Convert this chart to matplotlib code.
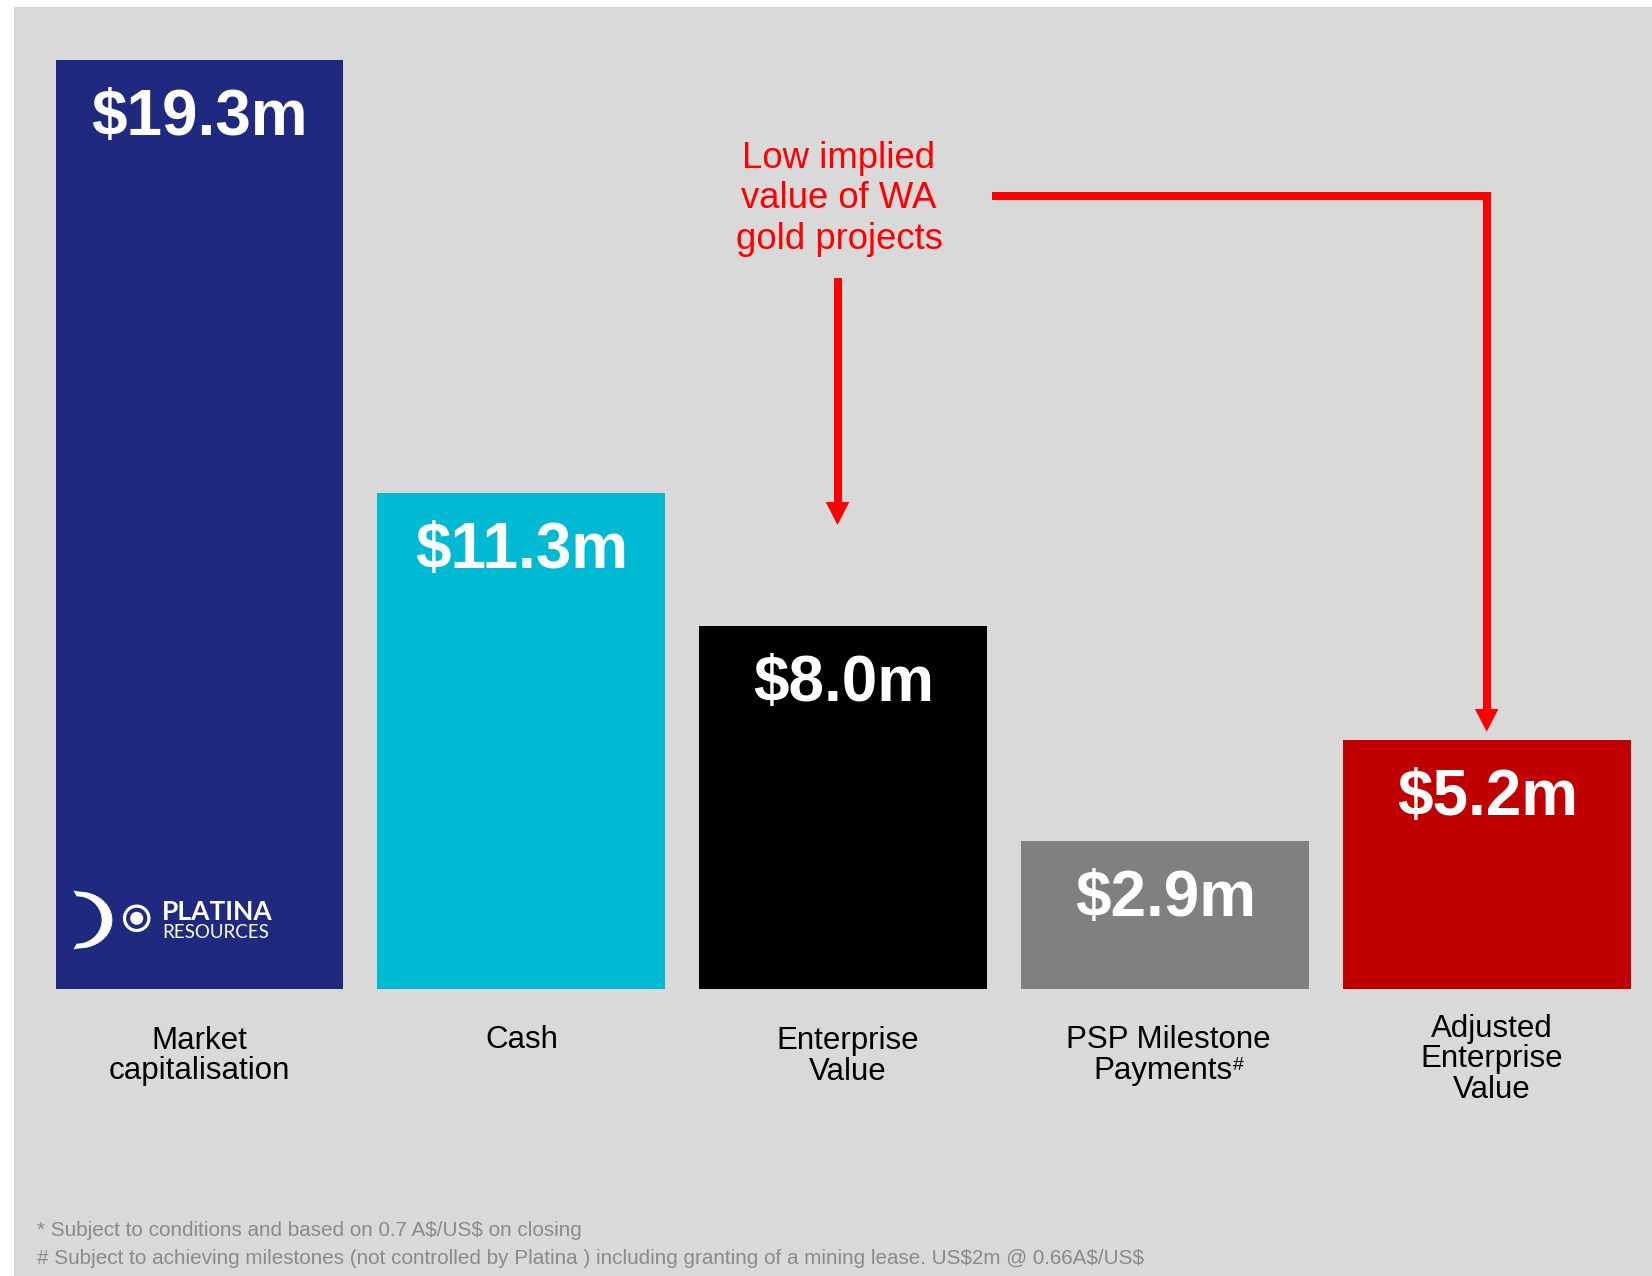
import matplotlib
matplotlib.use("Agg")
import matplotlib.pyplot as plt
from matplotlib import transforms
from matplotlib.patches import Rectangle, Polygon, Circle
import numpy as np

# ---------------- data ----------------
categories = ["Market\ncapitalisation", "Cash", "Enterprise\nValue",
              "PSP Milestone\nPayments#", "Adjusted\nEnterprise\nValue"]
value_labels = ["$19.3m", "$11.3m", "$8.0m", "$2.9m", "$5.2m"]
bar_heights = [19.4, 10.35, 7.58, 3.08, 5.2]   # heights as drawn in the picture ($m)
bar_colors = ["#1F297F", "#00BAD3", "#000000", "#808080", "#C00000"]
annotation_lines = ["Low implied", "value of WA", "gold projects"]
footnotes = ["* Subject to conditions and based on 0.7 A$/US$ on closing",
             "# Subject to achieving milestones (not controlled by Platina ) including granting of a mining lease. US$2m @ 0.66A$/US$"]

plt.rcParams["font.family"] = ["Liberation Sans", "DejaVu Sans"]

W, H = 1652, 1276
fig = plt.figure(figsize=(W / 100, H / 100), dpi=100)
fig.patch.set_facecolor("white")

# overlay in pixel coordinates (y down)
ov = fig.add_axes([0, 0, 1, 1], zorder=3)
ov.set_xlim(0, W)
ov.set_ylim(H, 0)
ov.axis("off")
ov.patch.set_alpha(0)

# background panel
bg = fig.add_axes([0, 0, 1, 1], zorder=0)
bg.set_xlim(0, W)
bg.set_ylim(H, 0)
bg.axis("off")
bg.add_patch(Rectangle((14, 7), W - 14, H - 7, facecolor="#D9D9D9", edgecolor="none"))

# bar axes
ax = fig.add_axes([0, 0, 1, 1], zorder=1)
ax.patch.set_alpha(0)
ppu = 47.9           # pixels per $m
base_px = 287        # baseline from bottom
spacing = 322
c0 = 199.5
ax.set_xlim(-c0 / spacing, (W - c0) / spacing)
ax.set_ylim(-base_px / ppu, (H - base_px) / ppu)
ax.axis("off")

x = np.arange(len(categories))
ax.bar(x, bar_heights, width=288 / spacing, color=bar_colors, zorder=2)

# value labels
for xi, h, lab in zip(x, bar_heights, value_labels):
    ax.annotate(lab, (xi, h), xytext=(0, -75), textcoords="offset pixels",
                ha="center", va="baseline", color="white", fontsize=46,
                fontweight="bold", parse_math=False, zorder=4)

# category labels
blend = transforms.blended_transform_factory(ax.transData, ov.transData)
first_base = [1049, 1048, 1049, 1048, 1037]
x_shift = [0, 0, 4, 3, 4]
fig.canvas.draw()
for xi, cat, fb, dx in zip(x, categories, first_base, x_shift):
    for j, line in enumerate(cat.split("\n")):
        y = fb + j * 30.5
        if line.endswith("#"):
            main = line[:-1]
            t = ax.annotate(main, (xi, y), xycoords=blend, xytext=(dx - 6, 0),
                            textcoords="offset pixels", ha="center",
                            va="baseline", fontsize=22.5, color="black", zorder=4)
            fig.canvas.draw()
            bb = t.get_window_extent()
            base_disp = blend.transform((xi, y))[1]
            fig.text(bb.x1 + 1, base_disp + 9, "#", ha="left", va="baseline",
                     fontsize=14, color="black", transform=None, zorder=4)
        else:
            ax.annotate(line, (xi, y), xycoords=blend, xytext=(dx, 0),
                        textcoords="offset pixels", ha="center",
                        va="baseline", fontsize=22.5, color="black", zorder=4)

# annotation text
for j, line in enumerate(annotation_lines):
    ov.text(839, 167.5 + j * 40.8, line, ha="center", va="baseline",
            fontsize=26.3, color="#FF0000")

# arrows
red = "#FF0000"
lw = 8 * 0.72
ov.plot([837.5, 837.5], [278, 503], color=red, lw=lw, solid_capstyle="butt")
ov.add_patch(Polygon([[825.7, 502], [849.3, 502], [837.5, 525]], closed=True,
                     facecolor=red, edgecolor="none"))
ov.plot([992, 1486.7, 1486.7], [196, 196, 710], color=red, lw=lw,
        solid_capstyle="butt", solid_joinstyle="miter")
ov.add_patch(Polygon([[1474.9, 709], [1498.5, 709], [1486.7, 731.7]], closed=True,
                     facecolor=red, edgecolor="none"))

# footnotes
for j, line in enumerate(footnotes):
    ov.text(37, 1236.5 + j * 27.3, line, ha="left", va="baseline", fontsize=14.9,
            color="#8A8A8A", parse_math=False)

# logo
t = np.linspace(np.pi / 2, -np.pi / 2, 60)
outer = np.c_[79 + 33 * np.cos(t), 920 - 28 * np.sin(t)]
t2 = np.linspace(-np.pi / 2, np.pi / 2, 60)
inner = np.c_[77 + 25 * np.cos(t2), 920 - 24 * np.sin(t2)]
pts = np.vstack([[[74, 891]], outer, [[74, 949]], inner])
ov.add_patch(Polygon(pts, closed=True, facecolor="white", edgecolor="white", lw=0.5))
ov.add_patch(Circle((136.7, 918.3), 12.2, facecolor="none", edgecolor="white", lw=2.3))
ov.add_patch(Circle((136.7, 918.3), 6.5, facecolor="white", edgecolor="none"))
ov.text(162, 920, "PLATINA", ha="left", va="baseline", fontsize=19,
        fontweight="bold", color="white", family=["Lato", "DejaVu Sans"])
ov.text(162, 938.5, "RESOURCES", ha="left", va="baseline", fontsize=13.5,
        fontweight="normal", color="white", family=["Lato", "DejaVu Sans"])

fig.savefig("out.png", dpi=100)
